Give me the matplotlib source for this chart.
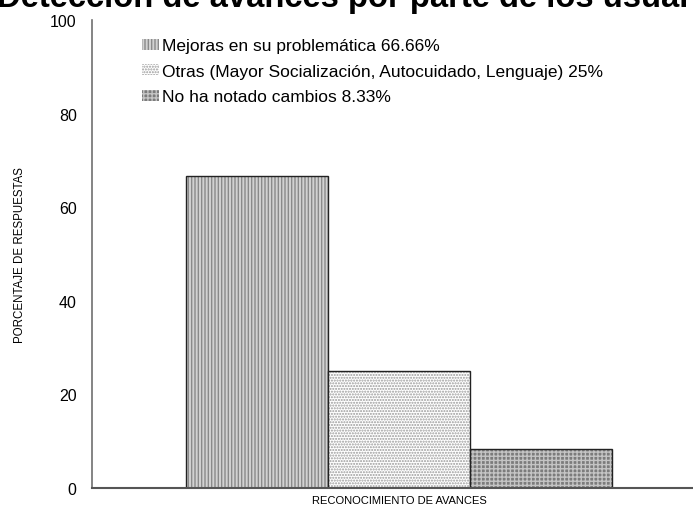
import matplotlib.pyplot as plt
from matplotlib.patches import Patch

plt.rcParams['font.family'] = ['Liberation Sans', 'DejaVu Sans']
plt.rcParams['hatch.linewidth'] = 1.0

labels = ['Mejoras en su problemática 66.66%',
          'Otras (Mayor Socialización, Autocuidado, Lenguaje) 25%',
          'No ha notado cambios 8.33%']
values = [66.66, 25, 8.33]
offsets = [-1, 0, 1]
faces = ['#d2d2d2', '#ffffff', '#7c7c7c']
hatch_colors = ['#8a8a8a', '#9a9a9a', '#c4c4c4']
hatches = ['|||||', '......', '++++']

fig = plt.figure(figsize=(6.93, 5.10), dpi=100)
ax = fig.add_axes([92 / 693, 1 - 489 / 510, 614 / 693, 468 / 510])

for x, v, fc, hc, h in zip(offsets, values, faces, hatch_colors, hatches):
    # hatch layer, then a plain outline on top
    ax.bar(x, v, width=1.0, color=fc, edgecolor=hc, hatch=h, linewidth=0)
    ax.bar(x, v, width=1.0, fill=False, edgecolor='#222222', linewidth=1.0)

ax.set_xlim(-2.162, 2.162)
ax.set_ylim(0, 100)
ax.set_yticks([0, 20, 40, 60, 80, 100])
ax.set_xticks([])
ax.tick_params(axis='y', length=0, pad=11, labelsize=11.5)

for s in ['top', 'right']:
    ax.spines[s].set_visible(False)
ax.spines['left'].set_color('#707070')
ax.spines['bottom'].set_color('#555555')
ax.spines['left'].set_linewidth(1.2)
ax.spines['bottom'].set_linewidth(1.5)

ax.set_ylabel('PORCENTAJE DE RESPUESTAS', fontsize=8.3, labelpad=17)
ax.set_xlabel('RECONOCIMIENTO DE AVANCES', fontsize=8, labelpad=5)
fig.text(-3 / 693, 1 - 7.5 / 510,
         'Detección de avances por parte de los usuarios',
         fontsize=23.6, fontweight='bold', ha='left', va='baseline')

handles = [Patch(facecolor=fc, edgecolor=hc, hatch=h, linewidth=0)
           for fc, hc, h in zip(faces, hatch_colors, hatches)]
fig.legend(handles, labels, loc='upper left',
           bbox_to_anchor=(142 / 693, 1 - 39.5 / 510), frameon=False,
           fontsize=12.5, handlelength=1.0, handleheight=0.6,
           handletextpad=0.15, labelspacing=0.6, borderpad=0, borderaxespad=0)

fig.savefig('out.png', dpi=100)
